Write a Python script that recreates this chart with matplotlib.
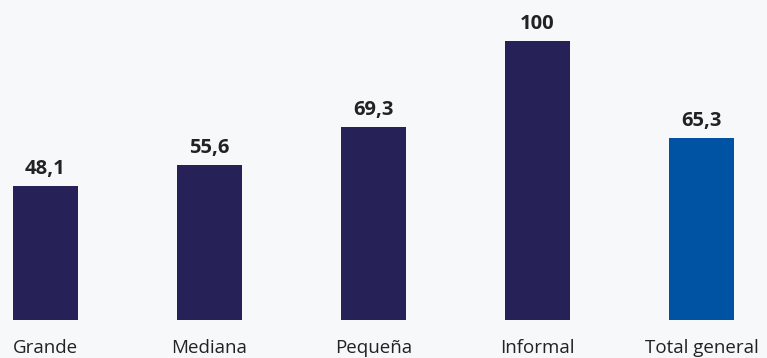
import matplotlib
matplotlib.use("Agg")
import matplotlib.pyplot as plt

categories = ['Grande', 'Mediana', 'Pequeña', 'Informal', 'Total general']
values = [48.1, 55.6, 69.3, 100, 65.3]
labels = ['48,1', '55,6', '69,3', '100', '65,3']
colors = ['#262157', '#262157', '#262157', '#262157', '#0052A2']

plt.rcParams['font.family'] = ['Open Sans', 'DejaVu Sans']

bg = '#F7F8FA'
fig = plt.figure(figsize=(7.67, 3.58), dpi=100, facecolor=bg)
ax = fig.add_axes([0, 38 / 358, 1, 279 / 358], facecolor=bg)

x = range(len(categories))
bars = ax.bar(x, values, width=0.396, color=colors)

for b, lab in zip(bars, labels):
  ax.annotate(lab, (b.get_x() + b.get_width() / 2, b.get_height()),
              xytext=(0, 5), textcoords='offset points',
              ha='center', va='bottom', fontsize=14.5, fontweight='bold',
              color='#222222', annotation_clip=False)

ax.set_xlim(-0.277, 4.40)
ax.set_ylim(0, 100)
ax.set_xticks(list(x))
ax.set_xticklabels(categories, fontsize=13.5, color='#222222')
ax.tick_params(axis='x', length=0, pad=14)
ax.set_yticks([])
for s in ax.spines.values():
  s.set_visible(False)

fig.savefig('out.png', dpi=100, facecolor=bg)
